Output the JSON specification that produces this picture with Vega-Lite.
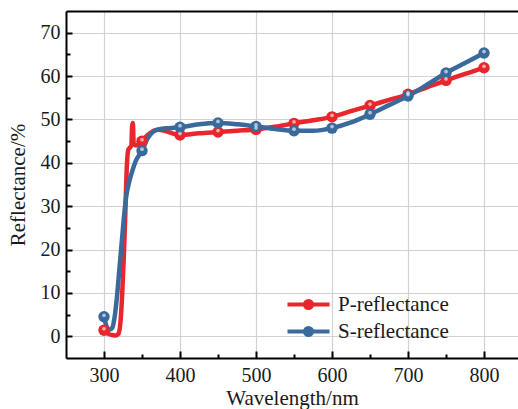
{
  "$schema": "https://vega.github.io/schema/vega-lite/v6.json",
  "width": 452,
  "height": 347,
  "autosize": {"type": "none"},
  "padding": {"left": 66, "top": 11, "right": 0, "bottom": 51},
  "background": "white",
  "config": {"view": {"stroke": null}},
  "datasets": {
    "curve": [
      {"nm": 300, "v": 1.4, "series": "P-reflectance"},
      {"nm": 305, "v": 0.6, "series": "P-reflectance"},
      {"nm": 310, "v": 0.3, "series": "P-reflectance"},
      {"nm": 315, "v": 0.2, "series": "P-reflectance"},
      {"nm": 319, "v": 0.6, "series": "P-reflectance"},
      {"nm": 322, "v": 4, "series": "P-reflectance"},
      {"nm": 324, "v": 10, "series": "P-reflectance"},
      {"nm": 326, "v": 18, "series": "P-reflectance"},
      {"nm": 328, "v": 28, "series": "P-reflectance"},
      {"nm": 330, "v": 39, "series": "P-reflectance"},
      {"nm": 332, "v": 43, "series": "P-reflectance"},
      {"nm": 334, "v": 43.5, "series": "P-reflectance"},
      {"nm": 336, "v": 44, "series": "P-reflectance"},
      {"nm": 337, "v": 48.5, "series": "P-reflectance"},
      {"nm": 338, "v": 49.2, "series": "P-reflectance"},
      {"nm": 339, "v": 44.5, "series": "P-reflectance"},
      {"nm": 342, "v": 44, "series": "P-reflectance"},
      {"nm": 346, "v": 44.3, "series": "P-reflectance"},
      {"nm": 350, "v": 45, "series": "P-reflectance"},
      {"nm": 355, "v": 46, "series": "P-reflectance"},
      {"nm": 362, "v": 47, "series": "P-reflectance"},
      {"nm": 370, "v": 47.6, "series": "P-reflectance"},
      {"nm": 380, "v": 47.4, "series": "P-reflectance"},
      {"nm": 390, "v": 46.8, "series": "P-reflectance"},
      {"nm": 400, "v": 46.4, "series": "P-reflectance"},
      {"nm": 425, "v": 46.8, "series": "P-reflectance"},
      {"nm": 450, "v": 47.1, "series": "P-reflectance"},
      {"nm": 475, "v": 47.4, "series": "P-reflectance"},
      {"nm": 500, "v": 47.7, "series": "P-reflectance"},
      {"nm": 525, "v": 48.3, "series": "P-reflectance"},
      {"nm": 550, "v": 49.1, "series": "P-reflectance"},
      {"nm": 575, "v": 49.8, "series": "P-reflectance"},
      {"nm": 600, "v": 50.6, "series": "P-reflectance"},
      {"nm": 625, "v": 51.9, "series": "P-reflectance"},
      {"nm": 650, "v": 53.2, "series": "P-reflectance"},
      {"nm": 675, "v": 54.5, "series": "P-reflectance"},
      {"nm": 700, "v": 55.8, "series": "P-reflectance"},
      {"nm": 725, "v": 57.4, "series": "P-reflectance"},
      {"nm": 750, "v": 59.0, "series": "P-reflectance"},
      {"nm": 775, "v": 60.5, "series": "P-reflectance"},
      {"nm": 800, "v": 61.9, "series": "P-reflectance"},
      {"nm": 300, "v": 4.5, "series": "S-reflectance"},
      {"nm": 303, "v": 2.5, "series": "S-reflectance"},
      {"nm": 307, "v": 1.5, "series": "S-reflectance"},
      {"nm": 311, "v": 2.0, "series": "S-reflectance"},
      {"nm": 314, "v": 4.5, "series": "S-reflectance"},
      {"nm": 317, "v": 9, "series": "S-reflectance"},
      {"nm": 320, "v": 15, "series": "S-reflectance"},
      {"nm": 323, "v": 21, "series": "S-reflectance"},
      {"nm": 326, "v": 27, "series": "S-reflectance"},
      {"nm": 329, "v": 32, "series": "S-reflectance"},
      {"nm": 333, "v": 35.5, "series": "S-reflectance"},
      {"nm": 337, "v": 38, "series": "S-reflectance"},
      {"nm": 342, "v": 40.5, "series": "S-reflectance"},
      {"nm": 350, "v": 42.8, "series": "S-reflectance"},
      {"nm": 357, "v": 45.5, "series": "S-reflectance"},
      {"nm": 365, "v": 47.2, "series": "S-reflectance"},
      {"nm": 372, "v": 47.7, "series": "S-reflectance"},
      {"nm": 385, "v": 48.0, "series": "S-reflectance"},
      {"nm": 400, "v": 48.2, "series": "S-reflectance"},
      {"nm": 425, "v": 48.9, "series": "S-reflectance"},
      {"nm": 450, "v": 49.2, "series": "S-reflectance"},
      {"nm": 475, "v": 48.9, "series": "S-reflectance"},
      {"nm": 500, "v": 48.4, "series": "S-reflectance"},
      {"nm": 525, "v": 47.8, "series": "S-reflectance"},
      {"nm": 550, "v": 47.4, "series": "S-reflectance"},
      {"nm": 575, "v": 47.4, "series": "S-reflectance"},
      {"nm": 600, "v": 48.0, "series": "S-reflectance"},
      {"nm": 625, "v": 49.3, "series": "S-reflectance"},
      {"nm": 650, "v": 51.2, "series": "S-reflectance"},
      {"nm": 675, "v": 53.3, "series": "S-reflectance"},
      {"nm": 700, "v": 55.4, "series": "S-reflectance"},
      {"nm": 725, "v": 58.0, "series": "S-reflectance"},
      {"nm": 750, "v": 60.7, "series": "S-reflectance"},
      {"nm": 775, "v": 63.0, "series": "S-reflectance"},
      {"nm": 800, "v": 65.3, "series": "S-reflectance"}
    ],
    "markers": [
      {"nm": 300, "v": 1.4, "series": "P-reflectance"},
      {"nm": 350, "v": 45.0, "series": "P-reflectance"},
      {"nm": 400, "v": 46.4, "series": "P-reflectance"},
      {"nm": 450, "v": 47.1, "series": "P-reflectance"},
      {"nm": 500, "v": 47.7, "series": "P-reflectance"},
      {"nm": 550, "v": 49.1, "series": "P-reflectance"},
      {"nm": 600, "v": 50.6, "series": "P-reflectance"},
      {"nm": 650, "v": 53.2, "series": "P-reflectance"},
      {"nm": 700, "v": 55.8, "series": "P-reflectance"},
      {"nm": 750, "v": 59.0, "series": "P-reflectance"},
      {"nm": 800, "v": 61.9, "series": "P-reflectance"},
      {"nm": 300, "v": 4.5, "series": "S-reflectance"},
      {"nm": 350, "v": 42.8, "series": "S-reflectance"},
      {"nm": 400, "v": 48.2, "series": "S-reflectance"},
      {"nm": 450, "v": 49.2, "series": "S-reflectance"},
      {"nm": 500, "v": 48.4, "series": "S-reflectance"},
      {"nm": 550, "v": 47.4, "series": "S-reflectance"},
      {"nm": 600, "v": 48.0, "series": "S-reflectance"},
      {"nm": 650, "v": 51.2, "series": "S-reflectance"},
      {"nm": 700, "v": 55.4, "series": "S-reflectance"},
      {"nm": 750, "v": 60.7, "series": "S-reflectance"},
      {"nm": 800, "v": 65.3, "series": "S-reflectance"}
    ]
  },
  "encoding": {
    "y": {
      "field": "v", "type": "quantitative",
      "scale": {"domain": [-5, 75], "nice": false, "zero": false},
      "axis": {
        "title": "Reflectance/%",
        "values": [0, 5, 10, 15, 20, 25, 30, 35, 40, 45, 50, 55, 60, 65, 70],
        "labelExpr": "datum.value % 10 === 0 ? datum.label : ''",
        "tickSize": {"condition": {"test": "datum.value % 10 !== 0", "value": -4}, "value": -6},
        "tickColor": "black", "tickWidth": 2,
        "domainColor": "black", "domainWidth": 2,
        "grid": true,
        "gridColor": "#d2d2d2", "gridWidth": 1.2,
        "gridOpacity": {"condition": {"test": "datum.value % 10 !== 0", "value": 0}, "value": 1},
        "labelFont": "Liberation Serif", "labelFontSize": 20, "labelColor": "#1a1a1a",
        "labelPadding": 12,
        "titleFont": "Liberation Serif", "titleFontSize": 21, "titleFontWeight": "normal",
        "titleColor": "#1a1a1a", "titlePadding": 12
      }
    },
    "color": {
      "field": "series", "type": "nominal",
      "scale": {"domain": ["P-reflectance", "S-reflectance"], "range": ["#e8262b", "#3a6a9c"]},
      "legend": {
        "title": null,
        "orient": "none",
        "legendX": 232,
        "legendY": 283,
        "padding": 0,
        "symbolType": "M-2.625,0H2.625M0.44,0A0.44,0.44,0,1,1,-0.44,0A0.44,0.44,0,1,1,0.44,0Z",
        "symbolSize": 256,
        "symbolStrokeWidth": 4,
        "labelOffset": 19,
        "rowPadding": 2,
        "labelFont": "Liberation Serif", "labelFontSize": 21, "labelColor": "#1a1a1a",
        "encode": {
          "symbols": {"update": {
            "fill": {"scale": "color", "field": "value"},
            "stroke": {"scale": "color", "field": "value"},
            "fillOpacity": {"value": 1}
          }}
        }
      }
    }
  },
  "layer": [
    {
      "data": {"name": "curve"},
      "mark": {"type": "line", "strokeWidth": 4.5, "interpolate": "monotone"},
      "encoding": {
        "x": {
          "field": "nm", "type": "quantitative",
          "scale": {"domain": [250, 844.7], "nice": false, "zero": false},
          "axis": {
            "orient": "bottom",
            "title": "Wavelength/nm",
            "values": [300, 350, 400, 450, 500, 550, 600, 650, 700, 750, 800],
            "labelExpr": "datum.value % 100 === 0 ? datum.label : ''",
            "tickSize": {"condition": {"test": "datum.value % 100 !== 0", "value": -4}, "value": -7},
            "tickColor": "black", "tickWidth": 2,
            "domainColor": "black", "domainWidth": 2,
            "grid": true,
            "gridColor": "#d2d2d2", "gridWidth": 1.2,
            "gridOpacity": {"condition": {"test": "datum.value % 100 !== 0", "value": 0}, "value": 1},
            "labelFont": "Liberation Serif", "labelFontSize": 20, "labelColor": "#1a1a1a",
            "labelPadding": 14,
            "titleFont": "Liberation Serif", "titleFontSize": 21, "titleFontWeight": "normal",
            "titleColor": "#1a1a1a", "titlePadding": 2
          }
        },
        "detail": {"field": "series"}
      }
    },
    {
      "data": {"name": "markers"},
      "mark": {"type": "point", "shape": "circle", "filled": true, "size": 130, "opacity": 1},
      "encoding": {
        "x": {
          "field": "nm", "type": "quantitative",
          "axis": {
            "orient": "top", "title": null, "labels": false, "ticks": false, "grid": false,
            "domainColor": "black", "domainWidth": 2
          }
        }
      }
    },
    {
      "data": {"name": "markers"},
      "mark": {"type": "point", "shape": "circle", "filled": true, "size": 14, "opacity": 0.6, "yOffset": -1.5, "color": "white"},
      "encoding": {
        "x": {"field": "nm", "type": "quantitative", "axis": null},
        "color": {"value": "white"}
      }
    }
  ],
  "resolve": {"axis": {"x": "independent"}}
}
